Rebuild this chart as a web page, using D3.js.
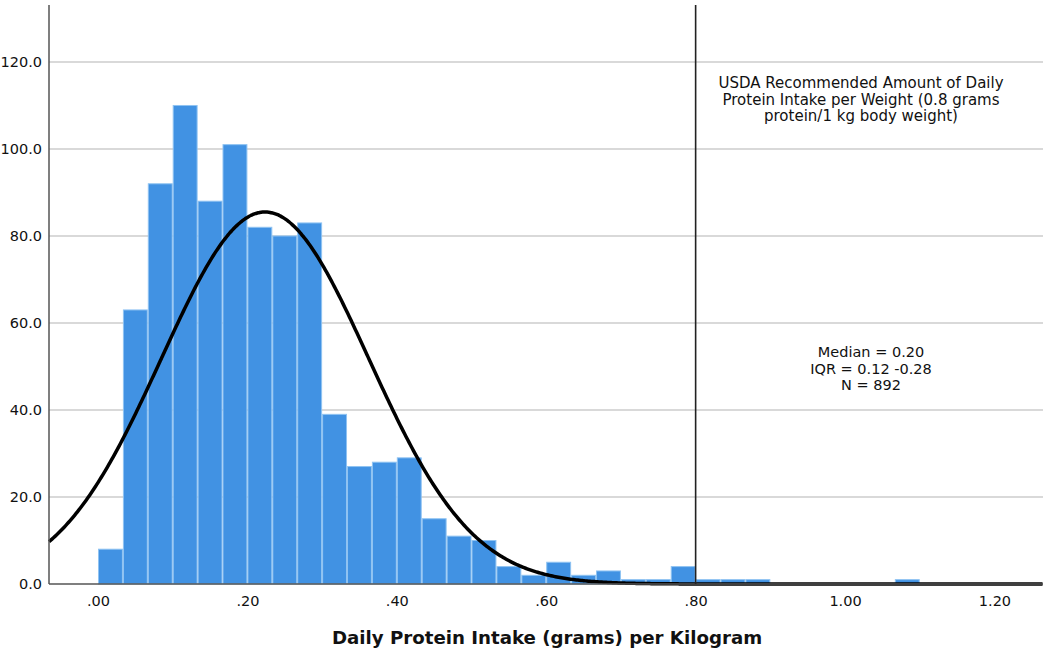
<!DOCTYPE html>
<html>
<head>
<meta charset="utf-8">
<script src="https://cdn.jsdelivr.net/npm/d3@7"></script>
<style>
  html, body { margin: 0; padding: 0; background: #fff; }
  svg { display: block; }
  text { font-family: "DejaVu Sans", sans-serif; fill: #111; }
</style>
</head>
<body>
<svg id="chart" width="1050" height="654"></svg>
<script>
// ---- data ----
const binWidth = 1 / 30;
const binStarts = d3.range(0, 33).map(i => i / 30);
const counts = [8, 63, 92, 110, 88, 101, 82, 80, 83, 39, 27, 28, 29, 15, 11, 10, 4, 2, 5, 2, 3, 1, 1, 4, 1, 1, 1, 0, 0, 0, 0, 0, 1];
const yTicks = [0, 20, 40, 60, 80, 100, 120];
const xTicks = [0, 0.2, 0.4, 0.6, 0.8, 1.0, 1.2];
const xTickLabels = [".00", ".20", ".40", ".60", ".80", "1.00", "1.20"];
const normalMean = 0.2236;
const normalSD = 0.1387;
const nTotal = 892;
const refLineX = 0.8;
const refLabel = ["USDA Recommended Amount of Daily", "Protein Intake per Weight (0.8 grams", "protein/1 kg body weight)"];
const statsLabel = ["Median = 0.20", "IQR = 0.12 -0.28", "N = 892"];
const xTitle = "Daily Protein Intake (grams) per Kilogram";

// ---- layout ----
const svg = d3.select("#chart");
const mLeft = 49, mRight = 1043, mTop = 5, mBottom = 584;
const x = d3.scaleLinear().domain([-0.0656, 1.265]).range([mLeft, mRight]);
const y = d3.scaleLinear().domain([0, 133.1]).range([mBottom, mTop]);

// gridlines
svg.append("g").selectAll("line").data(yTicks.filter(d => d > 0)).join("line")
  .attr("x1", mLeft).attr("x2", mRight)
  .attr("y1", d => y(d)).attr("y2", d => y(d))
  .attr("stroke", "#cccccc").attr("stroke-width", 1.3);

// bars
const bars = binStarts.map((s, i) => ({ x0: s, x1: s + binWidth, v: counts[i] })).filter(d => d.v > 0);
svg.append("g").selectAll("rect").data(bars).join("rect")
  .attr("x", d => x(d.x0) + 0.5)
  .attr("width", d => x(d.x1) - x(d.x0) - 1)
  .attr("y", d => y(d.v))
  .attr("height", d => y(0) - y(d.v))
  .attr("fill", "#4192e3")
  .attr("stroke", "#8fc3f2").attr("stroke-width", 1);

// normal curve (fitted density scaled to counts)
const pts = d3.range(x.domain()[0], x.domain()[1] + 0.0001, 0.002).map(v => {
  const z = (v - normalMean) / normalSD;
  return [v, nTotal * binWidth * Math.exp(-0.5 * z * z) / (normalSD * Math.sqrt(2 * Math.PI))];
});
svg.append("path").datum(pts)
  .attr("d", d3.line().x(d => x(d[0])).y(d => y(d[1])).curve(d3.curveBasis))
  .attr("fill", "none").attr("stroke", "#000").attr("stroke-width", 3.5);

// axes
const yAxis = svg.append("g").attr("transform", `translate(${mLeft},0)`)
  .call(d3.axisLeft(y).tickValues(yTicks).tickFormat(d3.format(".1f")).tickSize(0).tickPadding(7));
yAxis.select(".domain").attr("d", `M0,${mTop}V${mBottom}`).attr("stroke", "#555").attr("stroke-width", 1.5);
yAxis.selectAll("text").attr("font-size", 14.5).attr("font-family", "DejaVu Sans, sans-serif").attr("fill", "#111");

const xAxis = svg.append("g").attr("transform", `translate(0,${mBottom})`)
  .call(d3.axisBottom(x).tickValues(xTicks).tickFormat((d, i) => xTickLabels[i]).tickSize(0).tickPadding(12));
xAxis.select(".domain").attr("d", `M${mLeft},0H${mRight}`).attr("stroke", "#555").attr("stroke-width", 1.5);
xAxis.selectAll("text").attr("font-size", 14.5).attr("font-family", "DejaVu Sans, sans-serif").attr("fill", "#111");

// reference line
svg.append("line").attr("x1", x(refLineX)).attr("x2", x(refLineX))
  .attr("y1", mTop).attr("y2", mBottom)
  .attr("stroke", "#222").attr("stroke-width", 1.6);

// annotations
svg.append("text").attr("text-anchor", "middle").attr("font-size", 15)
  .selectAll("tspan").data(refLabel).join("tspan")
  .attr("x", 861).attr("y", (d, i) => 88 + i * 16.5).text(d => d);

svg.append("text").attr("text-anchor", "middle").attr("font-size", 14.5)
  .selectAll("tspan").data(statsLabel).join("tspan")
  .attr("x", 871).attr("y", (d, i) => 357 + i * 16.5).text(d => d);

svg.append("text").attr("x", (mLeft + mRight) / 2 + 1).attr("y", 644)
  .attr("text-anchor", "middle").attr("font-size", 18.2).attr("font-weight", "bold")
  .text(xTitle);
</script>
</body>
</html>
